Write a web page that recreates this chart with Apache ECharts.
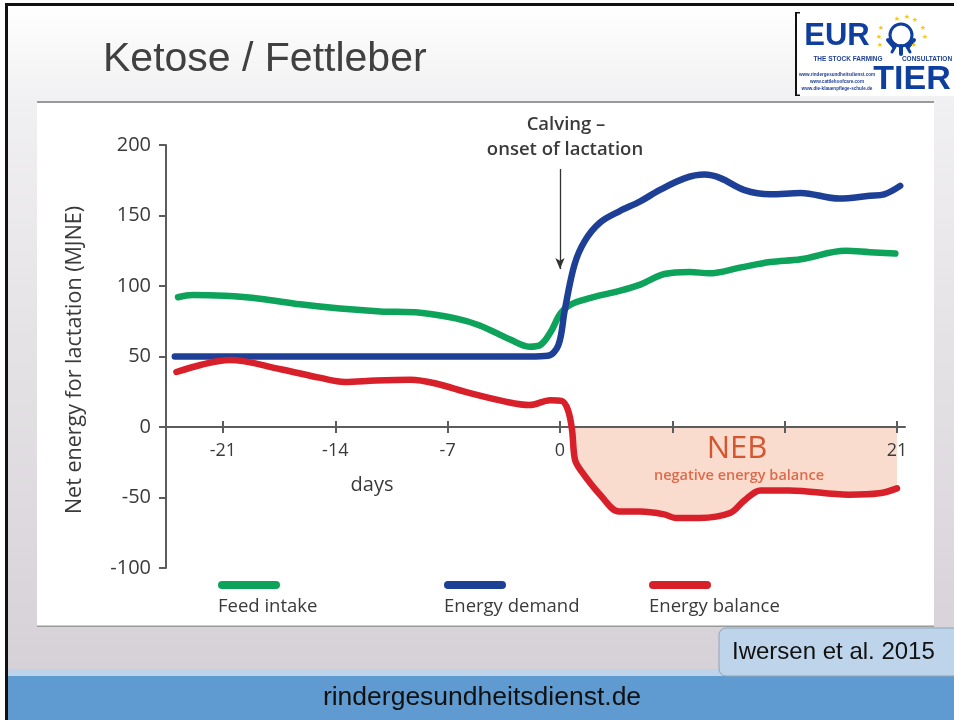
<!DOCTYPE html>
<html><head><meta charset="utf-8">
<style>html,body{margin:0;padding:0;background:#fff}#c{width:954px;height:720px}</style>
<script src="https://cdn.jsdelivr.net/npm/echarts@6/dist/echarts.min.js"></script>
</head><body><div id="c"></div>
<script>
const feedIntake=[[-23.8,92],[-22.9,93.6],[-20.9,93],[-18.7,91],[-16.2,87],[-13.7,84],[-11.2,82],[-8.7,81],[-6.5,77],[-5,72],[-3.1,62],[-1.9,57],[-1.25,58],[-0.6,67],[0,80],[0.6,86.5],[1.9,91.5],[3.7,96.5],[5,101],[6.5,108.5],[8.1,110],[9.3,109],[11.2,113],[13.1,117],[15,119],[17.8,125],[19.3,124],[20.9,123]];
const energyDemand=[[-24,50],[-14,50],[-7,50],[-1.9,50],[-0.75,50.5],[-0.1,58],[0.3,83],[0.9,115],[1.55,132],[2.5,145],[3.7,153],[5,160],[6.2,168],[7.8,176.5],[9,179],[10,176.5],[11.5,168],[13.1,165],[15,166],[17.4,162],[19.3,164],[20.2,165],[21.2,171]];
const energyBalance=[[-23.9,39],[-22.4,44],[-20.6,47.5],[-17.4,41],[-15,35],[-13.4,32],[-11.5,33],[-9.3,33.5],[-7.8,31],[-5.6,24],[-3.4,18],[-1.9,15.6],[-0.6,19],[0.1,18.5],[0.5,12],[0.75,-2],[0.93,-23],[1.25,-30],[2.5,-48],[3.7,-60],[5,-60],[6.5,-62],[7.2,-64.5],[8.7,-64.5],[10.6,-61],[11.5,-52],[12.5,-45],[14.3,-45],[18,-48],[19.9,-47],[21,-43.5]];
const xTicks=[-21,-14,-7,0,7,14,21];
const xLabels=[-21,-14,-7,0,21];
const seriesNames=['Feed intake','Energy demand','Energy balance'];
const seriesColors=['#0ea35b','#1d3f95','#d8202b'];
const legendX=[218,444,649];
const arrowFrom=[0,183], arrowTo=[0,112];

const ink='#3a3a3a', axisCol='#5c5c5c', font='"Open Sans"', blue='#0f3f9e';
const SM=0.35;
const neb=energyBalance.filter(d=>d[1]<=0);
const line=(i,data,extra)=>Object.assign({name:seriesNames[i],type:'line',data,smooth:SM,showSymbol:false,symbol:'none',clip:false,
  lineStyle:{color:seriesColors[i],width:6.5,cap:'round',join:'round'},itemStyle:{color:seriesColors[i]},z:3},extra||{});
const bg=(x,y,w,h,fill,extra)=>Object.assign({type:'rect',z:-5,silent:true,shape:{x,y,width:w,height:h},style:{fill}},extra||{});
const txt=(x,y,text,size,fill,extra,styleX)=>Object.assign({type:'text',z:20,silent:true,x,y,style:Object.assign({text,font:size+'px '+font,fill,textAlign:'center',textVerticalAlign:'middle'},styleX||{})},extra||{});
const ring=(cx,cy,r,w)=>({type:'circle',z:12,silent:true,shape:{cx,cy,r},style:{fill:'none',stroke:blue,lineWidth:w}});
const seg=(x1,y1,x2,y2,w)=>({type:'line',z:12,silent:true,shape:{x1,y1,x2,y2},style:{stroke:blue,lineWidth:w,lineCap:'round'}});

const logo=[
  bg(795,12,159,84,'#ffffff',{z:10}),
  bg(795,12,2,84,'#111',{z:11}),
  bg(795,12,5,1.5,'#111',{z:11}),bg(795,94.5,5,1.5,'#111',{z:11}),
  txt(837,36,'EUR',31,blue,{},{font:'bold 31px "Liberation Sans"',letterSpacing:5}),
  ring(901,35,11,3),seg(894,47,888,40,4),seg(908,47,914,40,4),seg(901,46,901,54,4),seg(896,45,892,52,3),seg(906,45,910,52,3),
  ...[[897,19],[907,17],[915,20],[881,28],[923,28],[879,37],[925,37],[880,45],[914,45]].map(p=>txt(p[0],p[1],'★',7,'#f5c518',{},{font:'7px "DejaVu Sans"'})),
  txt(848,59,'THE STOCK FARMING',6.5,'#1d3f95',{},{font:'bold 6.5px "Liberation Sans"'}),
  txt(927,59,'CONSULTATION',6.5,'#1d3f95',{},{font:'bold 6.5px "Liberation Sans"'}),
  txt(837,75,'www.rindergesundheitsdienst.com',4.6,'#1d3f95',{},{font:'bold 4.6px "Liberation Sans"'}),
  txt(837,82,'www.cattlehoofcare.com',4.6,'#1d3f95',{},{font:'bold 4.6px "Liberation Sans"'}),
  txt(837,89,'www.die-klauenpflege-schule.de',4.6,'#1d3f95',{},{font:'bold 4.6px "Liberation Sans"'}),
  txt(912,80,'TIER',34,blue,{},{font:'bold 34px "Liberation Sans"',letterSpacing:1})
];

const legendGraphics=seriesNames.flatMap((n,i)=>[
  {type:'rect',z:20,silent:true,shape:{x:legendX[i],y:581,width:62,height:8,r:4},style:{fill:seriesColors[i]}},
  txt(legendX[i],607,n,18.5,ink,{},{textAlign:'left'})
]);

const chart=echarts.init(document.getElementById('c'),null,{renderer:'canvas'});
chart.setOption({
  animation:false,
  backgroundColor:'#ffffff',
  title:{text:'Ketose / Fettleber',left:98,top:34,textStyle:{fontFamily:'"Liberation Sans"',fontSize:41,fontWeight:'normal',color:'#404040'}},
  grid:{left:166,top:145,width:739,height:423,containLabel:false},
  xAxis:[
    {type:'value',position:'bottom',offset:-141,min:-24.55,max:21.5,splitLine:{show:false},
     axisLine:{onZero:false,lineStyle:{color:axisCol,width:2}},
     axisTick:{length:6,lineStyle:{color:axisCol,width:2},customValues:xTicks},
     axisLabel:{customValues:xLabels,margin:15,color:ink,fontFamily:font,fontSize:18}},
    {type:'value',position:'top',offset:-282,min:-24.55,max:21.5,splitLine:{show:false},
     axisLine:{show:false,onZero:false},
     axisTick:{length:6,lineStyle:{color:axisCol,width:2},customValues:xTicks},
     axisLabel:{show:false}}
  ],
  yAxis:[
    {type:'value',min:-100,max:200,interval:50,position:'left',splitLine:{show:false},
     axisLine:{show:true,onZero:false,lineStyle:{color:axisCol,width:2}},
     axisTick:{length:7,lineStyle:{color:axisCol,width:2}},
     axisLabel:{margin:15,color:ink,fontFamily:font,fontSize:20},
     name:'Net energy for lactation (MJNE)',nameLocation:'middle',nameGap:80,nameRotate:90,
     nameTextStyle:{color:ink,fontFamily:font,fontSize:21.5,padding:[0,0,0,-7]}}
  ],
  series:[
    {name:'NEB',type:'line',data:neb,smooth:SM,showSymbol:false,symbol:'none',
     lineStyle:{width:0},areaStyle:{color:'#fadccf',opacity:1,origin:0},z:-1,silent:true},
    line(0,feedIntake),
    line(1,energyDemand,{markLine:{silent:true,symbol:['none','arrow'],symbolSize:[7,11],label:{show:false},
      lineStyle:{color:'#333',width:1.3,type:'solid'},data:[[{coord:arrowFrom},{coord:arrowTo}]]}}),
    line(2,energyBalance,{z:4})
  ],
  graphic:{elements:[
    bg(0,0,954,720,'#ffffff',{z:-10}),
    bg(8,6,946,664,new echarts.graphic.LinearGradient(0,0,0,1,[{offset:0,color:'#ffffff'},{offset:0.15,color:'#f0eff1'},{offset:1,color:'#d6d1d7'}]),{z:-9}),
    bg(5,3,949,3,'#111',{z:-8}),
    bg(5,3,3,717,'#111',{z:30}),
    bg(37,102,897,524,'#ffffff',{z:-7}),
    bg(37,101,897,2,'#9a9a9a',{z:-6}),
    bg(37,625.5,897,1.5,'#9a9a9a',{z:-6}),
    bg(8,669,946,7,'#bcd3e9',{z:-6}),
    bg(8,676,946,44,'#5f9bd0',{z:-6}),
    {type:'rect',z:15,silent:true,shape:{x:719,y:628,width:241,height:48,r:7},style:{fill:'#bdd4ea',stroke:'#8fa3b8',lineWidth:1}},
    txt(732,652,'Iwersen et al. 2015',24,'#111',{},{textAlign:'left',font:'24px "Liberation Sans"'}),
    txt(482,698,'rindergesundheitsdienst.de',26.5,'#111',{},{font:'26.5px "Liberation Sans"'}),
    txt(566,125,'Calving –',18.5,ink,{},{font:'600 18.5px '+font}),
    txt(565,150,'onset of lactation',18.5,ink,{},{font:'600 18.5px '+font}),
    txt(372,485,'days',20,ink),
    txt(737,449,'NEB',31,'#d4562f'),
    txt(739,476,'negative energy balance',14.5,'#dd6a4a',{},{font:'600 14.5px '+font}),
    ...legendGraphics,
    ...logo
  ]}
});
</script></body></html>
